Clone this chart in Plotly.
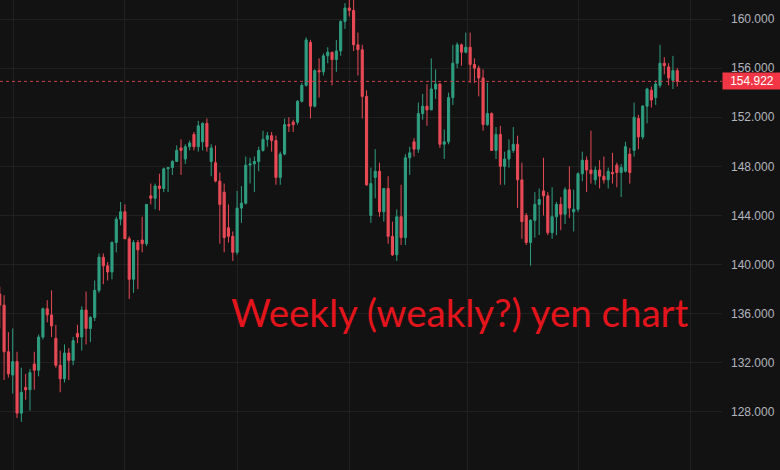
import pandas as pd
import plotly.graph_objects as go

# ---- data (weekly candles) ----
start_week = "2022-12-12"
opens = [137.6,136.7,132.9,131.0,132.1,127.9,130.0,129.8,131.9,131.4,
         134.1,136.4,135.9,134.0,131.8,130.7,132.8,132.2,134.4,134.1,
         136.3,134.8,135.7,137.9,140.6,139.9,139.4,141.8,143.7,144.3,
         142.1,138.8,141.8,142.0,141.7,145.6,145.4,146.4,146.2,147.8,
         147.9,148.4,149.5,148.6,149.6,150.6,149.6,150.0,151.5,148.4,
         148.3,146.8,145.9,143.0,142.3,141.0,144.6,145.0,148.1,148.2,
         148.4,149.3,150.2,150.5,150.1,147.1,149.0,151.4,151.6,151.6,
         153.3,154.6,158.1,152.9,155.8,155.7,157.0,157.3,156.7,157.4,
         159.8,160.9,160.7,157.9,157.5,153.7,144.0,147.1,147.6,144.3,
         146.2,142.3,140.8,143.9,142.2,148.7,150.0,149.4,152.3,152.9,
         152.6,154.3,154.7,149.8,150.0,153.6,156.4,157.9,157.3,157.7,
         156.3,156.0,155.2,151.4,152.3,149.3,150.6,148.0,148.6,149.3,
         149.8,146.9,144.0,141.8,143.6,144.9,146.0,145.6,142.6,143.9,
         144.9,144.1,146.1,144.3,144.5,147.4,148.5,147.7,146.9,147.7,
         147.2,146.9,147.5,148.1,147.5,147.6,149.0,149.3,151.9,150.4,
         152.9,154.2,153.6,154.6,156.4,156.1,155.0,155.8]
highs = [138.2,137.5,134.5,134.8,132.9,131.6,131.1,131.5,132.9,134.3,
         136.5,137.1,137.9,135.1,133.0,133.5,133.2,134.1,135.1,136.6,
         137.8,135.8,138.7,140.9,140.9,140.2,141.9,143.9,145.1,144.9,
         142.3,142.0,142.0,143.9,144.9,146.6,146.6,147.4,147.9,147.9,
         148.5,149.7,150.2,149.8,150.1,150.8,151.7,151.6,151.9,149.8,
         149.7,147.5,146.6,144.9,142.7,146.0,146.4,148.8,148.7,148.8,
         149.6,150.9,150.8,150.8,150.5,149.2,151.9,152.0,151.8,153.4,
         154.8,158.5,158.3,155.9,156.8,157.2,157.7,157.3,158.3,159.9,
         161.3,162.0,161.8,158.9,157.9,154.2,147.9,149.4,148.3,146.2,
         147.2,143.5,144.5,146.5,149.0,149.6,150.3,153.2,153.9,154.7,
         156.8,155.9,154.8,151.0,154.0,157.9,158.1,158.0,158.9,158.9,
         156.8,156.2,155.9,154.8,152.4,151.2,151.3,149.2,150.2,151.2,
         150.5,148.3,144.2,143.7,145.9,146.2,148.7,145.9,146.3,145.1,
         145.5,146.3,148.0,146.1,147.5,149.2,148.8,150.9,148.0,148.5,
         148.8,147.9,149.1,148.3,148.2,150.0,149.5,153.2,152.2,153.0,
         154.4,154.5,155.0,157.9,156.9,156.4,157.0,156.0]
lows = [134.8,130.6,130.8,129.5,127.5,127.2,129.0,128.1,129.8,130.9,
        133.9,135.3,134.1,131.6,129.6,130.4,130.6,131.8,133.6,133.0,
        133.5,133.7,135.4,137.7,138.4,138.7,138.8,141.0,143.2,142.1,
        137.2,137.7,138.0,141.0,141.5,144.9,144.5,144.4,145.9,145.9,
        147.3,148.4,147.3,148.2,149.3,149.3,149.2,149.3,149.2,147.2,
        146.7,141.7,141.0,141.8,140.3,140.8,143.4,144.9,146.6,145.9,
        147.6,149.2,149.6,149.2,146.5,146.5,148.9,150.8,150.8,151.4,
        153.2,154.5,151.9,152.8,153.6,155.4,156.4,154.6,155.7,157.0,
        159.2,160.2,157.4,155.4,151.9,146.4,143.4,145.4,143.9,143.5,
        141.7,140.7,140.3,141.6,141.6,147.3,148.8,149.1,151.8,151.3,
        152.6,153.5,149.5,148.6,149.8,153.0,156.0,156.2,157.2,154.8,
        154.8,153.7,150.9,151.3,149.3,148.6,146.5,146.5,147.9,149.1,
        144.6,142.1,141.6,139.9,142.2,142.4,144.0,142.4,142.1,142.4,
        142.8,143.3,143.8,142.7,144.3,146.8,145.9,146.6,146.5,146.2,
        146.6,146.2,146.6,146.3,145.5,147.5,146.6,148.8,149.4,150.2,
        151.5,152.8,153.0,154.4,155.5,154.6,154.3,154.5]
closes = [136.7,132.9,131.1,132.1,127.9,129.6,129.8,131.2,131.4,134.1,
          136.4,135.9,135.0,131.8,130.7,132.8,132.2,133.8,134.1,136.3,
          134.8,135.7,137.9,140.6,139.9,139.4,141.8,143.7,144.3,142.1,
          138.8,141.8,141.2,141.7,144.9,145.4,146.4,146.2,147.8,147.9,
          148.4,149.3,149.3,149.6,149.9,149.6,151.3,151.5,149.6,149.5,
          146.8,144.9,142.2,142.3,141.0,144.6,145.0,148.1,148.2,148.4,
          149.3,150.2,150.5,150.1,147.1,149.0,151.4,151.3,151.4,153.3,
          154.6,158.3,152.9,155.8,155.7,157.0,157.3,156.7,157.4,159.8,
          160.9,160.7,157.9,157.5,153.7,146.5,146.6,147.6,144.3,146.2,
          142.3,140.8,143.9,142.2,148.7,149.1,149.4,152.3,152.9,152.6,
          154.3,154.7,149.8,150.0,153.6,156.4,157.9,157.3,157.7,156.3,
          156.0,155.2,151.4,152.3,149.3,150.6,148.0,148.6,149.3,149.8,
          146.9,143.5,141.8,143.6,144.9,145.3,145.6,142.6,143.9,144.9,
          144.1,146.1,144.6,144.5,147.4,148.5,147.7,147.4,147.7,147.2,
          146.9,147.6,147.4,147.5,147.9,149.6,147.5,152.0,150.4,152.9,
          154.3,153.4,154.7,156.4,156.2,155.2,155.8,154.922]

price_ticks = [128, 132, 136, 140, 144, 148, 152, 156, 160]
price_tick_labels = [f"{v:.3f}" for v in price_ticks]
grid_dates = ["2023-01-04", "2023-07-03", "2024-01-01", "2024-07-02",
              "2025-01-08", "2025-07-07", "2026-01-05"]
title_text = "Weekly (weakly?) yen chart"
last_price = closes[-1]

dates = pd.date_range(start_week, periods=len(closes), freq="7D")

BG = "#121212"
GRID = "#202020"
UP = "#2f9e81"
DOWN = "#e84a56"

fig = go.Figure(go.Candlestick(
    x=dates, open=opens, high=highs, low=lows, close=closes,
    increasing=dict(line=dict(color=UP, width=1), fillcolor=UP),
    decreasing=dict(line=dict(color=DOWN, width=1), fillcolor=DOWN),
    whiskerwidth=0, hoverinfo="skip",
))

fig.add_shape(type="line", xref="paper", x0=0, x1=1, yref="y",
              y0=last_price, y1=last_price,
              line=dict(color="#c8404b", width=1, dash="dot"))

fig.add_annotation(xref="paper", x=1, xanchor="left", yref="y", y=last_price,
                   yanchor="middle", text=f"{last_price:.3f}", showarrow=False,
                   bgcolor="#f23645", font=dict(color="#ffffff", size=12,
                   family="Liberation Sans"), width=54, height=12, borderpad=2,
                   align="center")

fig.add_annotation(xref="paper", x=459.5 / 722, xanchor="center",
                   yref="paper", y=1 - 312 / 470, yanchor="middle",
                   text=title_text, showarrow=False,
                   font=dict(family="Lato", size=38.5, color="#e3141c"))

fig.update_layout(
    width=780, height=470,
    margin=dict(l=0, r=58, t=0, b=0),
    paper_bgcolor=BG, plot_bgcolor=BG,
    showlegend=False,
    xaxis=dict(type="date", range=["2022-12-12 09:00", "2026-02-25 14:00"],
               autorange=False,
               rangeslider=dict(visible=False), showticklabels=False,
               tickvals=grid_dates, showgrid=True, gridcolor=GRID,
               gridwidth=1, zeroline=False, showline=False, ticks=""),
    yaxis=dict(side="right", range=[123.27, 161.55], autorange=False,
               tickvals=price_ticks,
               ticktext=price_tick_labels, showgrid=True, gridcolor=GRID,
               gridwidth=1, zeroline=False, showline=False, ticks="",
               ticklabelstandoff=8,
               tickfont=dict(color="#b2b5be", size=12, family="Liberation Sans")),
)

fig.write_html("out.html",
               config={"displayModeBar": False, "staticPlot": True},
               post_script="document.body.style.margin='0px';"
                           "document.body.style.background='#121212';")
